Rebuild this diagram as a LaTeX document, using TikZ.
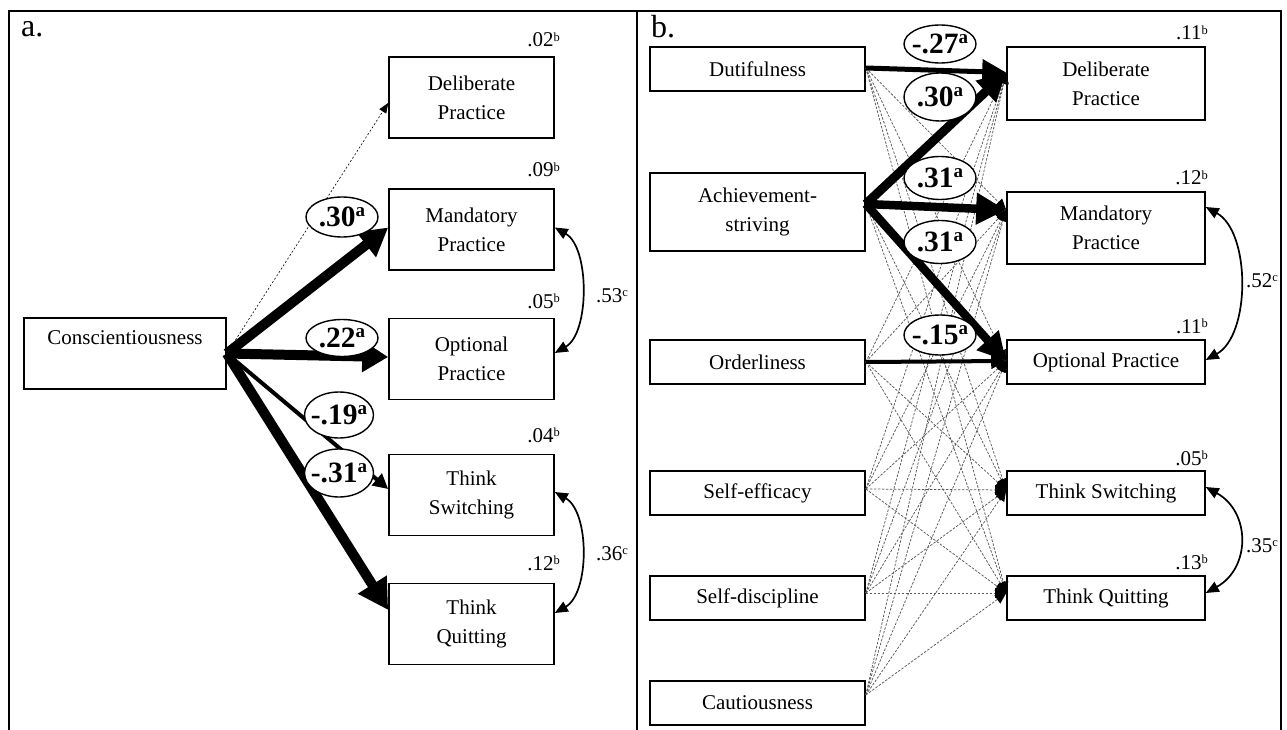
\documentclass[tikz,border=0pt]{standalone}
\usepackage{fontspec}
\setmainfont{Liberation Serif}
\usetikzlibrary{arrows.meta,shapes.geometric,calc}
\newcommand{\myrsq}[2]{#1{\fontsize{12.5}{12.5}\selectfont\raisebox{5.8pt}{#2}}}
\newcommand{\mycoef}[1]{#1{\fontsize{19}{19}\selectfont\raisebox{10.5pt}{a}}}
\begin{document}
\begin{tikzpicture}[x=1pt,y=-1pt,
  every node/.style={font=\fontsize{21}{29}\selectfont},
  boxn/.style={draw,line width=1.6pt,align=center,inner sep=0pt},
  ell/.style={draw,ellipse,fill=white,line width=1.4pt,inner sep=-10pt,
    minimum width=72pt,minimum height=42pt,font=\fontsize{29.5}{29.5}\selectfont\bfseries},
  rsq/.style={anchor=base east,inner sep=0pt},
  corr/.style={anchor=base west,inner sep=0pt},
  dasha/.style={line width=0.6pt,dash pattern=on 2pt off 2pt,-{Triangle[length=10pt,width=8pt]}},
  dashb/.style={draw=black!65,line width=0.75pt,dash pattern=on 2.5pt off 1.5pt,
    -{Triangle[length=11pt,width=10pt,color=black]}},
  heavy/.style={line width=#1},
  curv/.style={line width=1.7pt,{Triangle[length=13pt,width=11pt]}-{Triangle[length=13pt,width=11pt]}}
]
\useasboundingbox (0,0) rectangle (1287,730);
% frame
\draw[line width=2.2pt] (9,730) -- (9,11) -- (1281,11) -- (1281,730);
\draw[line width=2.2pt] (637,11) -- (637,730);
\node[anchor=base west,inner sep=0pt,font=\fontsize{32}{32}\selectfont] (la) at (21,37) {a.};
\node[anchor=base west,inner sep=0pt,font=\fontsize{32}{32}\selectfont] (lb) at (651,38) {b.};

% ---------------- panel a ----------------
\node[boxn,minimum width=202pt,minimum height=71pt] (C) at (125,353.5) {Conscientiousness\\[-6pt]\strut};
\foreach \n/\y/\t in {DPa/97.5/Deliberate\\Practice, MPa/229.5/Mandatory\\Practice,
  OPa/359/Optional\\Practice, TSa/495/Think\\Switching, TQa/624/Think\\Quitting}
  \node[boxn,minimum width=165pt,minimum height=81pt] (\n) at (471.5,\y) {\t};

\node[rsq] (r1) at (560,47) {\myrsq{.02}{b}};
\node[rsq] (r2) at (560,177) {\myrsq{.09}{b}};
\node[rsq] (r3) at (560,308) {\myrsq{.05}{b}};
\node[rsq] (r4) at (560,442) {\myrsq{.04}{b}};
\node[rsq] (r5) at (560,570) {\myrsq{.12}{b}};
\node[corr] (c1) at (596,302) {\myrsq{.53}{c}};
\node[corr] (c2) at (596,560) {\myrsq{.36}{c}};

\draw[dasha] (C.east) -- ([yshift=-5.5pt]DPa.west);
\draw[heavy=10pt,-{Triangle[length=28pt,width=30pt]}] (C.east) -- ([yshift=2pt]MPa.west);
\draw[heavy=10pt,-{Triangle[length=26pt,width=30pt]}] (C.east) -- ([yshift=2pt]OPa.west);
\draw[heavy=4pt,-{Triangle[length=15pt,width=15pt]}] (C.east) -- ([yshift=6pt]TSa.west);
\draw[heavy=10pt,-{Triangle[length=30pt,width=32pt]}] (C.east) -- ([yshift=14pt]TQa.west);

\draw[curv] ([yshift=2pt]MPa.east) .. controls +(35,20) and +(35,-20) .. ([yshift=6pt]OPa.east);
\draw[curv] ([yshift=3pt]TSa.east) .. controls +(35,20) and +(35,-20) .. ([yshift=11pt]TQa.east);

\node[ell,minimum height=40pt] (e1) at (342,217) {\mycoef{.30}};
\node[ell,minimum height=37pt] (e2) at (342,338) {\mycoef{.22}};
\node[ell,minimum width=69pt,minimum height=46pt] (e3) at (339,415) {\mycoef{-.19}};
\node[ell,minimum width=69pt,minimum height=48pt] (e4) at (339,473) {\mycoef{-.31}};

% ---------------- panel b ----------------
\foreach \n/\y/\h/\t in {Du/69/44/Dutifulness, Ach/212/78/Achievement-\\striving,
  Or/362/44/Orderliness, SE/493/44/Self-efficacy, SD/598/44/Self-discipline, Ca/703/44/Cautiousness}
  \node[boxn,minimum width=215pt,minimum height=\h pt] (\n) at (757.5,\y) {\t};
\foreach \n/\y/\h/\t in {DPb/83.5/73/Deliberate\\Practice, MPb/228/72/Mandatory\\Practice,
  OPb/362/44/Optional Practice, TSb/493/44/Think Switching, TQb/598/44/Think Quitting}
  \node[boxn,minimum width=198pt,minimum height=\h pt] (\n) at (1106,\y) {\t};

\node[rsq] (r6) at (1208,40) {\myrsq{.11}{b}};
\node[rsq] (r7) at (1208,185) {\myrsq{.12}{b}};
\node[rsq] (r8) at (1208,333) {\myrsq{.11}{b}};
\node[rsq] (r9) at (1208,465) {\myrsq{.05}{b}};
\node[rsq] (r10) at (1208,569) {\myrsq{.13}{b}};
\node[corr] (c3) at (1246,287) {\myrsq{.52}{c}};
\node[corr] (c4) at (1246,552) {\myrsq{.35}{c}};

\coordinate (Du-o) at ([yshift=1pt]Du.east);
\coordinate (Ach-o) at ([yshift=8pt]Ach.east);
\coordinate (Or-o) at (Or.east);
\coordinate (SE-o) at ([yshift=4pt]SE.east);
\coordinate (SD-o) at ([yshift=5pt]SD.east);
\coordinate (Ca-o) at ([yshift=8pt]Ca.east);
\coordinate (DPb-i) at ([yshift=11pt]DPb.west);
\coordinate (MPb-i) at ([yshift=18pt]MPb.west);
\coordinate (OPb-i) at ([yshift=1pt]OPb.west);
\coordinate (TSb-i) at ([yshift=3pt]TSb.west);
\coordinate (TQb-i) at ([yshift=5pt]TQb.west);

\foreach \s/\t in {Du/MPb,Du/OPb,Du/TSb,Du/TQb,Ach/TSb,Ach/TQb,
  Or/DPb,Or/MPb,Or/TSb,Or/TQb,
  SE/DPb,SE/MPb,SE/OPb,SE/TSb,SE/TQb,
  SD/DPb,SD/MPb,SD/OPb,SD/TSb,SD/TQb,
  Ca/DPb,Ca/MPb,Ca/OPb,Ca/TSb,Ca/TQb}
  \draw[dashb] (\s-o) -- (\t-i);

\draw[heavy=5pt,-{Triangle[length=24pt,width=24pt]}] (Du-o) -- (DPb-i);
\draw[heavy=9pt,-{Triangle[length=28pt,width=28pt]}] (Ach-o) -- (DPb-i);
\draw[heavy=8.5pt,-{Triangle[length=30pt,width=30pt]}] (Ach-o) -- (MPb-i);
\draw[heavy=8.5pt,-{Triangle[length=28pt,width=28pt]}] (Ach-o) -- (OPb-i);
\draw[heavy=4pt,-{Triangle[length=15pt,width=15pt]}] (Or-o) -- (OPb-i);

\draw[curv] ([yshift=21pt]MPb.east) .. controls +(45,25) and +(45,-25) .. ([yshift=2pt]OPb.east);
\draw[curv] ([yshift=6pt]TSb.east) .. controls +(45,25) and +(45,-25) .. ([yshift=5pt]TQb.east);

\node[ell,minimum height=38pt] (e5) at (940,44) {\mycoef{-.27}};
\node[ell,minimum height=48pt] (e6) at (940,97) {\mycoef{.30}};
\node[ell,minimum height=43pt] (e7) at (940,178) {\mycoef{.31}};
\node[ell,minimum height=43pt] (e8) at (940,242) {\mycoef{.31}};
\node[ell,minimum height=40pt] (e9) at (940,335) {\mycoef{-.15}};
\end{tikzpicture}
\end{document}
